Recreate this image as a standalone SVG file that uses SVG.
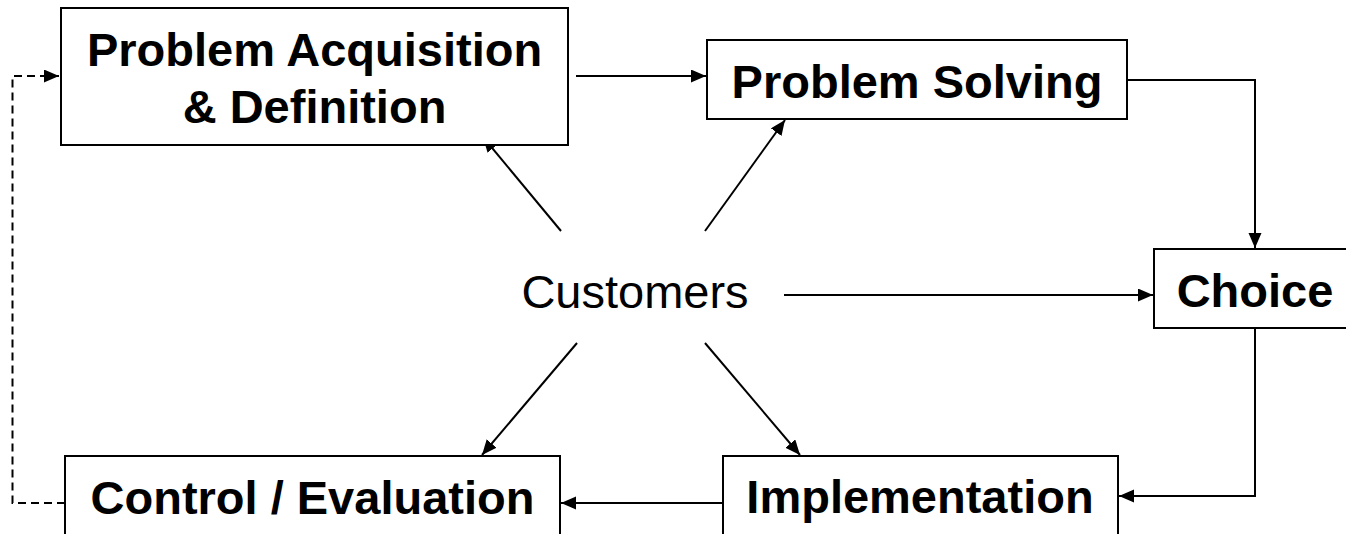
<svg xmlns="http://www.w3.org/2000/svg" width="1346" height="534" viewBox="0 0 1346 534">
<style>
.box{fill:#fff;stroke:#000;stroke-width:2}
.lbl{font-family:"Liberation Sans",Arial,sans-serif;font-weight:bold;font-size:47px;fill:#000;text-anchor:middle}
.cust{font-family:"Liberation Sans",Arial,sans-serif;font-size:47px;fill:#000;text-anchor:middle}
.con{fill:none;stroke:#000;stroke-width:2;marker-end:url(#ah)}
.dash{stroke-dasharray:8 5}
</style>
<defs>
<marker id="ah" markerUnits="userSpaceOnUse" markerWidth="16" markerHeight="14" refX="15" refY="6.5" orient="auto">
<path d="M0,0 L15,6.5 L0,13 z" fill="#000"/>
</marker>
</defs>
<rect width="1346" height="534" fill="#fff"/>
<g id="connectors">
<line class="con" x1="576" y1="76" x2="706" y2="76"/>
<polyline class="con" points="1127,80 1255,80 1255,248"/>
<polyline class="con" points="1255,328 1255,496 1119,496"/>
<line class="con" x1="723" y1="503" x2="561" y2="503"/>
<polyline class="con dash" points="65,503 12.5,503 12.5,76 59,76"/>
<line class="con" x1="561" y1="231" x2="483" y2="137"/>
<line class="con" x1="705" y1="231" x2="785" y2="120"/>
<line class="con" x1="577" y1="343" x2="482" y2="455"/>
<line class="con" x1="705" y1="343" x2="800" y2="455"/>
<line class="con" x1="784" y1="295" x2="1153" y2="295"/>
</g>
<g id="node-acquisition">
<rect class="box" x="61" y="8" width="507" height="137"/>
<text class="lbl" x="314.5" y="66">Problem Acquisition</text>
<text class="lbl" x="314.5" y="123">&amp; Definition</text>
</g>
<g id="node-solving">
<rect class="box" x="707" y="40" width="420" height="79"/>
<text class="lbl" x="917" y="98">Problem Solving</text>
</g>
<g id="node-choice">
<rect class="box" x="1154" y="249" width="202" height="79"/>
<text class="lbl" x="1255" y="307">Choice</text>
</g>
<g id="node-implementation">
<rect class="box" x="723" y="456" width="395" height="100"/>
<text class="lbl" x="920" y="513">Implementation</text>
</g>
<g id="node-control">
<rect class="box" x="65" y="456" width="495" height="100"/>
<text class="lbl" x="312.5" y="514">Control / Evaluation</text>
</g>
<g id="node-customers">
<text class="cust" x="635" y="308">Customers</text>
</g>
</svg>
